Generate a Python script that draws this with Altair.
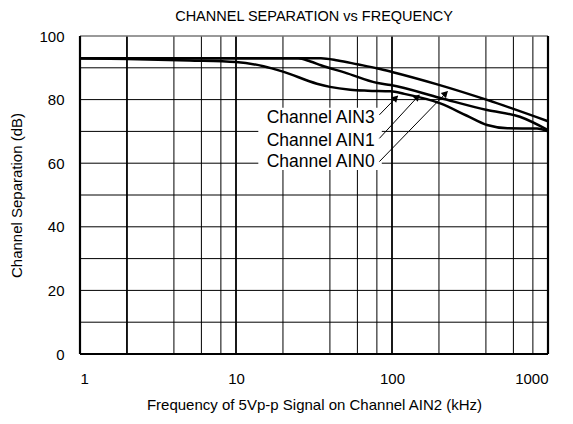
import altair as alt
import pandas as pd

# ---- data ----
freq_top = [1, 35, 45, 60, 81, 100, 195, 407, 1000]
db_top = [93, 93, 92.3, 91.1, 89.8, 88.7, 84.8, 79.9, 73.2]

freq_mid = [1, 25, 30, 35, 50, 81, 98, 204, 407, 660, 1000]
db_mid = [93, 93, 92, 90.8, 88.5, 85.2, 84.6, 80.5, 76.7, 74.6, 70.4]

freq_low = [1, 2, 5, 10, 15, 20, 33, 40, 54, 70, 98, 120, 204, 300, 407, 550, 850, 1000]
db_low = [93, 92.8, 92.3, 91.8, 90.5, 88.8, 85, 84, 83.1, 82.8, 82.6, 81.8, 78.8, 75, 72, 71, 70.9, 70]

labels = ["Channel AIN3", "Channel AIN1", "Channel AIN0"]
label_freq = [77.4, 77.4, 77.4]
label_db = [74.2, 67.0, 60.4]

arrow_tail_freq = [83, 83, 83]
arrow_tail_db = [75.2, 67.8, 60.5]
arrow_tip_freq = [108.6, 149.4, 226.4]
arrow_tip_db = [81.1, 81.4, 82.5]

x_ticks = [1, 10, 100, 1000]
y_ticks = [0, 20, 40, 60, 80, 100]
x_grid = [2, 4, 6, 8, 10, 20, 40, 60, 80, 100, 200, 400, 600, 800]
x_grid_bold = [2, 10, 100]
y_grid = [10, 20, 30, 40, 50, 60, 70, 80, 90]

FONT = "Liberation Sans"

xs = alt.Scale(type="log", domain=[1, 1000], nice=False)
ys = alt.Scale(domain=[0, 100], nice=False, zero=False)

ax_x = alt.Axis(
    values=x_ticks, format="d", grid=False, domain=False, ticks=False, tickSize=0,
    labelPadding=17, labelFont=FONT, labelFontSize=15, labelColor="black",
    title="Frequency of 5Vp-p Signal on Channel AIN2 (kHz)",
    titleFont=FONT, titleFontSize=15, titleFontWeight="normal", titleColor="black",
    titlePadding=11,
)
ax_y = alt.Axis(
    values=y_ticks, grid=False, domain=False, ticks=False, tickSize=0,
    labelPadding=16, labelFont=FONT, labelFontSize=15, labelColor="black",
    title="Channel Separation (dB)",
    titleFont=FONT, titleFontSize=15, titleFontWeight="normal", titleColor="black",
    titlePadding=14,
)

curves = pd.DataFrame(
    [{"series": "top", "f": f, "db": d} for f, d in zip(freq_top, db_top)]
    + [{"series": "mid", "f": f, "db": d} for f, d in zip(freq_mid, db_mid)]
    + [{"series": "low", "f": f, "db": d} for f, d in zip(freq_low, db_low)]
)

arrows = pd.DataFrame(
    [{"id": i, "f": arrow_tail_freq[i], "db": arrow_tail_db[i], "o": 0} for i in range(3)]
    + [{"id": i, "f": arrow_tip_freq[i], "db": arrow_tip_db[i], "o": 1} for i in range(3)]
)
tips = pd.DataFrame({"f": arrow_tip_freq, "db": arrow_tip_db})
lab = pd.DataFrame({"t": labels, "f": label_freq, "db": label_db})

vgrid = pd.DataFrame({"f": x_grid, "bold": [v in x_grid_bold for v in x_grid]})
hgrid = pd.DataFrame({"db": y_grid})


def X(field):
    return alt.X(field, scale=xs, axis=ax_x)


def Y(field):
    return alt.Y(field, scale=ys, axis=ax_y)


grid_v = alt.Chart(vgrid).mark_rule(color="black").encode(
    x=X("f:Q"),
    strokeWidth=alt.condition("datum.bold", alt.value(1.8), alt.value(1)),
)
grid_h = alt.Chart(hgrid).mark_rule(color="black", strokeWidth=1).encode(
    y=Y("db:Q"),
)

box = alt.Chart(pd.DataFrame({"f": [13.9], "b": [86], "db": [57.9], "d": [77.4]})).mark_rect(
    color="white"
).encode(
    x=X("f:Q"), x2="b:Q",
    y=Y("db:Q"), y2="d:Q",
)

texts = alt.Chart(lab).mark_text(
    align="right", baseline="middle", font=FONT, fontSize=17.5, color="black"
).encode(
    x=X("f:Q"),
    y=Y("db:Q"),
    text="t:N",
)

lines = alt.Chart(curves).mark_line(color="black", strokeWidth=2.5, interpolate="monotone").encode(
    x=X("f:Q"),
    y=Y("db:Q"),
    detail="series:N",
)

arrow_lines = alt.Chart(arrows).mark_line(color="black", strokeWidth=1).encode(
    x=X("f:Q"),
    y=Y("db:Q"),
    detail="id:N",
    order="o:Q",
)
arrow_heads = alt.Chart(tips).mark_point(
    shape="triangle", filled=True, color="black", size=55, angle=45, opacity=1,
    xOffset=-2.5, yOffset=2.5,
).encode(
    x=X("f:Q"),
    y=Y("db:Q"),
)

frame_lr = alt.Chart(pd.DataFrame({"f": [1, 1000]})).mark_rule(color="black", strokeWidth=2.2).encode(
    x=X("f:Q")
)
frame_b = alt.Chart(pd.DataFrame({"db": [0]})).mark_rule(color="black", strokeWidth=2.2).encode(
    y=Y("db:Q")
)
frame_t = alt.Chart(pd.DataFrame({"db": [100]})).mark_rule(color="#777777", strokeWidth=1.5).encode(
    y=Y("db:Q")
)

chart = alt.layer(
    grid_v, grid_h, box, texts, lines, arrow_lines, arrow_heads, frame_t, frame_lr, frame_b
).properties(
    width=468,
    height=318,
    title=alt.TitleParams(
        "CHANNEL SEPARATION vs FREQUENCY", font=FONT, fontSize=14.5, fontWeight="normal",
        color="black", anchor="middle", offset=4.5,
    ),
    autosize=alt.AutoSizeParams(type="none"),
    padding={"left": 72, "top": 28, "right": 17, "bottom": 62},
).configure_view(stroke=None)

chart.save("out.html", embed_options={"renderer": "svg", "actions": False})
